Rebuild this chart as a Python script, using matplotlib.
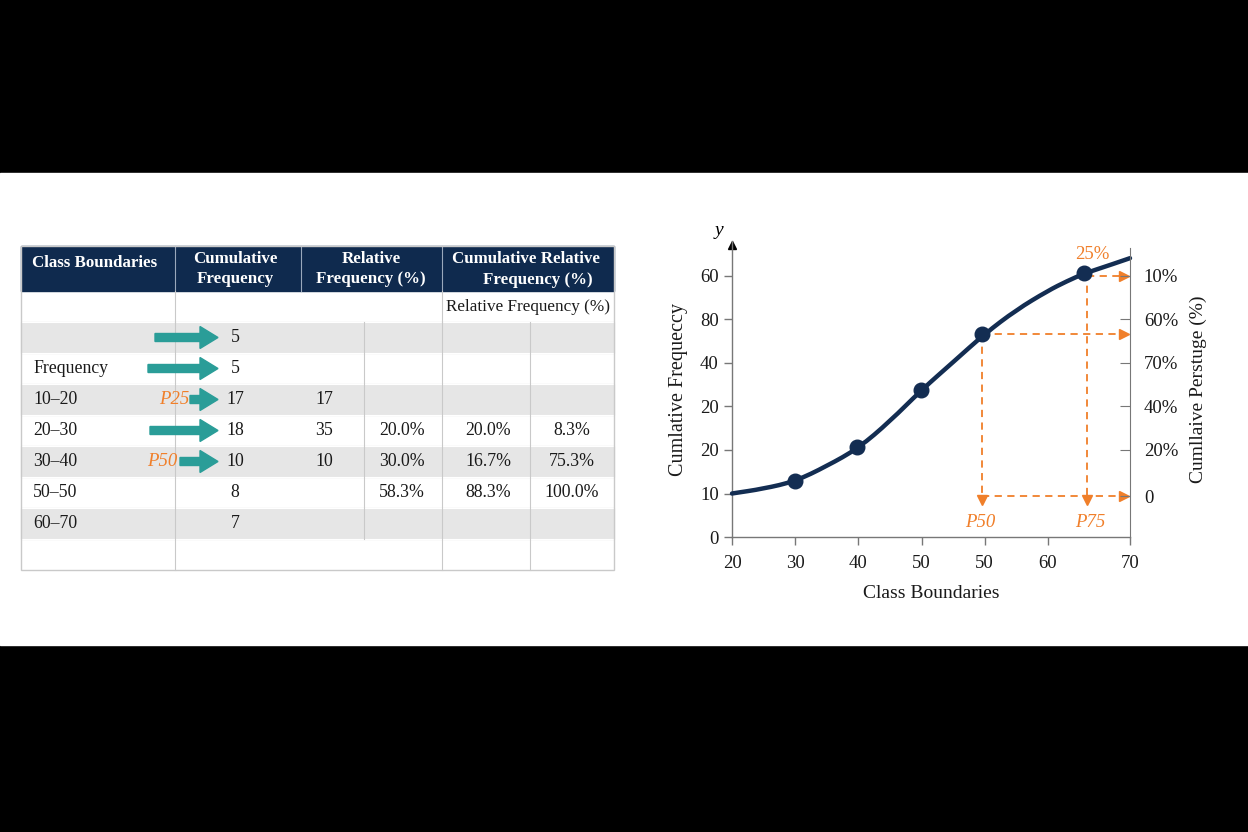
import matplotlib
matplotlib.use("Agg")
import matplotlib.pyplot as plt
import matplotlib.patches as mpatches
from matplotlib.path import Path

plt.rcParams['font.family'] = ['Liberation Serif', 'DejaVu Serif']

# ---- table data ----
header = ['Class Boundaries', 'Cumulative\nFrequency', 'Relative\nFrequency (%)']
header_last = ['Cumulative Relative', 'Frequency (%)']
sub_header = 'Relative Frequency (%)'
class_col = ['', 'Frequency', '10–20', '20–30', '30–40', '50–50', '60–70', '']
cum_freq = ['5', '5', '17', '18', '10', '8', '7', '']
rel_freq = ['', '', '17', '35', '10', '', '', '']
rel_pct = ['', '', '', '20.0%', '30.0%', '58.3%', '', '']
cum_rel_a = ['', '', '', '20.0%', '16.7%', '88.3%', '', '']
cum_rel_b = ['', '', '', '8.3%', '75.3%', '100.0%', '', '']
arrow_start = [155, 148, 190, 150, 180, None, None, None]
pct_marks = {2: 'P25', 4: 'P50'}

# ---- chart data ----
x_tick_pos = [0, 1, 2, 3, 4, 5, 6.3]
x_tick_labels = ['20', '30', '40', '50', '50', '60', '70']
y_tick_labels = ['0', '10', '20', '20', '40', '80', '60']
r_tick_pos = [0.94, 2, 3, 4, 5, 6]
r_tick_labels = ['0', '20%', '40%', '70%', '60%', '10%']
curve_x = [0, 0.5, 1, 1.5, 2, 2.5, 3, 3.5, 4, 4.5, 5, 5.3, 5.58, 6.0, 6.3]
curve_y = [1.0, 1.11, 1.28, 1.63, 2.04, 2.66, 3.38, 4.02, 4.67, 5.22, 5.66, 5.88, 6.06, 6.26, 6.41]
pt_x = [1.0, 1.98, 2.99, 3.96, 5.57]
pt_y = [1.29, 2.07, 3.38, 4.67, 6.07]
p50_x, p75_x = 3.96, 5.62
base_y = 0.94

NAVY = '#0f2a4e'
TEAL = '#2a9d98'
ORANGE = '#f07f2a'
GRAY_ROW = '#e6e6e6'
LINE = '#c9c9c9'
TXT = '#1a1a1a'

fig = plt.figure(figsize=(12.48, 8.32), dpi=100, facecolor='black')
bg = fig.add_axes([0, 0, 1, 1])
bg.set_xlim(0, 1248)
bg.set_ylim(832, 0)
bg.axis('off')
bg.add_patch(mpatches.Rectangle((0, 173), 1248, 472, color='white', zorder=0))

# ── table ────────────────────────────────────────────────
L, R = 21, 614
hdr_top, hdr_bot = 246, 291
sub_bot = 322
row_h = 31
nrows = len(class_col)
body_bot = sub_bot + nrows * row_h

bg.add_patch(mpatches.Rectangle((L, hdr_top), R - L, hdr_bot - hdr_top,
                                color=NAVY, zorder=1))
for xv in [175, 301, 442]:
    bg.plot([xv, xv], [hdr_top, hdr_bot], color='#9aa8bb', lw=0.8, zorder=2)

hfs = 12.2
bg.text(32, 263, header[0], color='white', fontsize=hfs, fontweight='bold',
        ha='left', va='center', zorder=3)
bg.text(235, 269, header[1], color='white', fontsize=hfs, fontweight='bold',
        ha='center', va='center', linespacing=1.3, zorder=3)
bg.text(371, 269, header[2], color='white', fontsize=hfs, fontweight='bold',
        ha='center', va='center', linespacing=1.3, zorder=3)
bg.text(526, 259, header_last[0], color='white', fontsize=hfs, fontweight='bold',
        ha='center', va='center', zorder=3)
bg.text(538, 280, header_last[1], color='white', fontsize=hfs, fontweight='bold',
        ha='center', va='center', zorder=3)

bfs = 12.8
# sub header row
bg.text(528, 307, sub_header, fontsize=12.3, color=TXT, ha='center', va='center', zorder=3)
for xv in [175, 442]:
    bg.plot([xv, xv], [hdr_bot, sub_bot], color=LINE, lw=0.8, zorder=2)

for i in range(nrows):
    top = sub_bot + i * row_h
    yc = top + row_h / 2
    if i % 2 == 0:
        bg.add_patch(mpatches.Rectangle((L, top), R - L, row_h,
                                        color=GRAY_ROW, zorder=1))
    bg.plot([L, R], [top, top], color='white', lw=0.8, zorder=1.5)
    bg.text(33, yc, class_col[i], fontsize=bfs, color=TXT, ha='left', va='center', zorder=3)
    bg.text(235, yc, cum_freq[i], fontsize=bfs, color=TXT, ha='center', va='center', zorder=3)
    bg.text(324, yc, rel_freq[i], fontsize=bfs, color=TXT, ha='center', va='center', zorder=3)
    bg.text(402, yc, rel_pct[i], fontsize=bfs, color=TXT, ha='center', va='center', zorder=3)
    bg.text(488, yc, cum_rel_a[i], fontsize=bfs, color=TXT, ha='center', va='center', zorder=3)
    bg.text(572, yc, cum_rel_b[i], fontsize=bfs, color=TXT, ha='center', va='center', zorder=3)
    if arrow_start[i] is not None:
        bg.add_patch(mpatches.FancyArrow(arrow_start[i], yc, 218 - arrow_start[i], 0,
                                         width=8, head_width=22, head_length=18,
                                         length_includes_head=True, color=TEAL,
                                         zorder=3))
    if i in pct_marks:
        bg.text(189 if i == 2 else 177, yc, pct_marks[i], fontsize=13.5,
                style='italic', color=ORANGE, ha='right', va='center', zorder=3)

for xv in [175, 442, 530]:
    bg.plot([xv, xv], [sub_bot, body_bot], color=LINE, lw=0.8, zorder=2)
bg.plot([364, 364], [sub_bot, body_bot - row_h], color=LINE, lw=0.8, zorder=2)
bg.add_patch(mpatches.Rectangle((L, hdr_top), R - L, body_bot - hdr_top,
                                fill=False, ec=LINE, lw=1, zorder=4))

# ── ogive chart ──────────────────────────────────────────
ax = fig.add_axes([732 / 1248, (832 - 537) / 832, 398 / 1248, 6.8 * 43.5 / 832])
ax.set_xlim(0, 6.3)
ax.set_ylim(0, 6.8)
ax.patch.set_alpha(0)
for s in ['top', 'right']:
    ax.spines[s].set_visible(False)
for s in ['left', 'bottom']:
    ax.spines[s].set_color('#777777')
    ax.spines[s].set_linewidth(1)

tfs = 13.5
ax.set_xticks(x_tick_pos)
ax.set_xticklabels(x_tick_labels)
ax.set_yticks(range(len(y_tick_labels)))
ax.set_yticklabels(y_tick_labels)
ax.tick_params(axis='both', labelsize=tfs, color='#777777', length=6, width=1,
               labelcolor=TXT)
ax.tick_params(axis='x', pad=7)
ax.set_xlabel('Class Boundaries', fontsize=14, color=TXT, labelpad=9)
ax.set_ylabel('Cumlative Frequeccy', fontsize=14.5, color=TXT, labelpad=9)

ax.plot([0], [6.72], marker='^', color='black', ms=6, clip_on=False)
ax.text(-0.2, 7.05, 'y', fontsize=14, style='italic', ha='center', va='center')

# right axis
ax2 = ax.twinx()
ax2.set_ylim(0, 6.8)
for s in ['top', 'left', 'bottom']:
    ax2.spines[s].set_visible(False)
ax2.spines['right'].set_color('#777777')
ax2.spines['right'].set_bounds(0, 6.65)
ax2.set_yticks(r_tick_pos)
ax2.set_yticklabels(r_tick_labels)
ax2.tick_params(axis='y', direction='in', length=7, color='#777777', labelsize=tfs,
                labelcolor=TXT, pad=10)
ax2.set_ylabel('Cumllaive Perstuge (%)', fontsize=14, color=TXT, labelpad=8)

# guide lines
dash = dict(color=ORANGE, lw=1.3, ls=(0, (4, 3)), zorder=2)
ax.plot([p50_x, p50_x], [pt_y[3], base_y], **dash)
ax.plot([p75_x, p75_x], [pt_y[4], base_y], **dash)
ax.plot([p50_x, 6.25], [base_y, base_y], **dash)
ax.plot([p50_x, 6.25], [pt_y[3], pt_y[3]], **dash)
ax.plot([p75_x, 6.25], [6.0, 6.0], **dash)
ax.plot([p50_x, p75_x], [base_y - 0.1] * 2, ls='none', marker='v', color=ORANGE, ms=7)
ax.plot([6.2] * 3, [base_y, pt_y[3], 6.0], ls='none', marker='>', color=ORANGE, ms=7)

ax.text(p50_x - 0.03, 0.34, 'P50', fontsize=13.5, style='italic', color=ORANGE,
        ha='center', va='center')
ax.text(p75_x + 0.05, 0.34, 'P75', fontsize=13.5, style='italic', color=ORANGE,
        ha='center', va='center')
ax.text(5.7, 6.5, '25%', fontsize=13.5, color=ORANGE, ha='center', va='center')

# smooth curve: quadratic Bezier segments through midpoints of the read points
pts = list(zip(curve_x, curve_y))
verts = [pts[0], ((pts[0][0] + pts[1][0]) / 2, (pts[0][1] + pts[1][1]) / 2)]
codes = [Path.MOVETO, Path.LINETO]
for i in range(1, len(pts) - 1):
    nxt = pts[i + 1]
    end = nxt if i == len(pts) - 2 else ((pts[i][0] + nxt[0]) / 2, (pts[i][1] + nxt[1]) / 2)
    verts += [pts[i], end]
    codes += [Path.CURVE3, Path.CURVE3]
ax.add_patch(mpatches.PathPatch(Path(verts, codes), fill=False, ec='#132d52', lw=3.2,
                                capstyle='round', joinstyle='round', zorder=3,
                                clip_on=False))
ax.plot(pt_x, pt_y, 'o', color='#132d52', ms=10.5, zorder=4)

fig.savefig('out.png', dpi=100, facecolor='black')
